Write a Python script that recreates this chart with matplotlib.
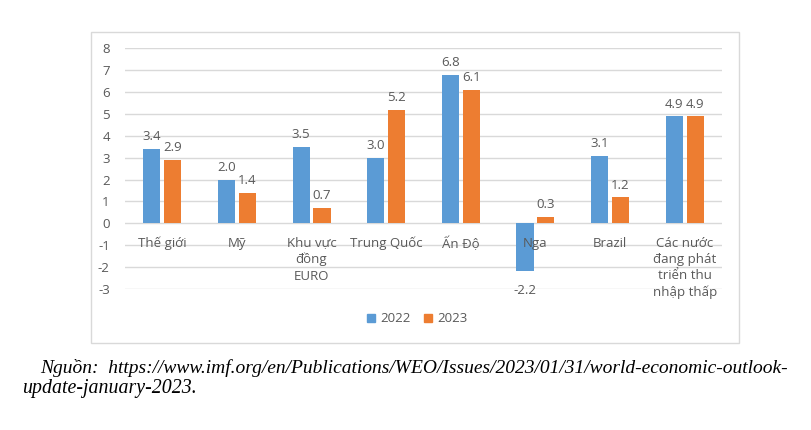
import matplotlib
matplotlib.use("Agg")
import matplotlib.pyplot as plt
from matplotlib.patches import Rectangle
import numpy as np

categories = ["Thế giới", "Mỹ", "Khu vực\nđồng\nEURO", "Trung Quốc", "Ấn Độ", "Nga", "Brazil",
              "Các nước\nđang phát\ntriển thu\nnhập thấp"]
series_names = ["2022", "2023"]
values_2022 = [3.4, 2.0, 3.5, 3.0, 6.8, -2.2, 3.1, 4.9]
values_2023 = [2.9, 1.4, 0.7, 5.2, 6.1, 0.3, 1.2, 4.9]
yticks = [-3, -2, -1, 0, 1, 2, 3, 4, 5, 6, 7, 8]
source_line1 = "Nguồn:  https://www.imf.org/en/Publications/WEO/Issues/2023/01/31/world-economic-outlook-"
source_line2 = "update-january-2023."

blue = "#5B9BD5"
orange = "#ED7D31"
grid = "#D9D9D9"
txt = "#595959"
font = "Open Sans"

W, H = 811, 430
fig = plt.figure(figsize=(W / 100, H / 100), dpi=100)

# chart border
fig.patches.append(Rectangle((91 / W, 1 - 343 / H), (739 - 91) / W, (343 - 32) / H,
                             transform=fig.transFigure, fill=False, edgecolor="#D9D9D9", lw=1))

ax = fig.add_axes([125 / W, 1 - 289 / H, (722 - 125) / W, (289 - 48.3) / H])
ax.set_xlim(-0.5, len(categories) - 0.5)
ax.set_ylim(-3, 8)
ax.set_yticks(yticks)
ax.set_yticklabels([str(t) for t in yticks], fontsize=9.5, color=txt, family=font)
ax.tick_params(axis="y", length=0, pad=11)
ax.set_xticks([])
for s in ax.spines.values():
    s.set_visible(False)
ax.grid(axis="y", color=grid, lw=1)
ax.set_axisbelow(True)

x = np.arange(len(categories))
w = 0.23
off = 0.14
b1 = ax.bar(x - off, values_2022, w, color=blue, label=series_names[0], zorder=2)
b2 = ax.bar(x + off, values_2023, w, color=orange, label=series_names[1], zorder=2)

for bars, vals in ((b1, values_2022), (b2, values_2023)):
    for rect, v in zip(bars, vals):
        cx = rect.get_x() + rect.get_width() / 2
        if v >= 0:
            ax.annotate(f"{v:.1f}", (cx, v), xytext=(0, 4), textcoords="offset points",
                        ha="center", va="bottom", fontsize=9.5, color=txt, family=font)
        else:
            ax.annotate(f"{v:.1f}", (cx, v), xytext=(0, -9), textcoords="offset points",
                        ha="center", va="top", fontsize=9.5, color=txt, family=font)

for i, c in enumerate(categories):
    ax.annotate(c, (i, 0), xytext=(0, -9.5), textcoords="offset points", ha="center", va="top",
                fontsize=9.5, color=txt, family=font, linespacing=1.32)

handles = [Rectangle((0, 0), 1, 1, color=blue), Rectangle((0, 0), 1, 1, color=orange)]
leg = fig.legend(handles, series_names, loc="center", bbox_to_anchor=(417 / W, 1 - 319 / H),
                 ncol=2, frameon=False, handlelength=0.6, handleheight=0.6, handletextpad=0.4,
                 columnspacing=1.0, prop={"family": font, "size": 9.5})
for t in leg.get_texts():
    t.set_color(txt)

fig.text(40 / W, 1 - 368 / H, source_line1, fontsize=14, family="Liberation Serif", style="italic",
         va="center", ha="left", color="#000000")
fig.text(22 / W, 1 - 389 / H, source_line2, fontsize=14.3, family="Liberation Serif", style="italic",
         va="center", ha="left", color="#000000")

fig.savefig("out.png", dpi=100)
